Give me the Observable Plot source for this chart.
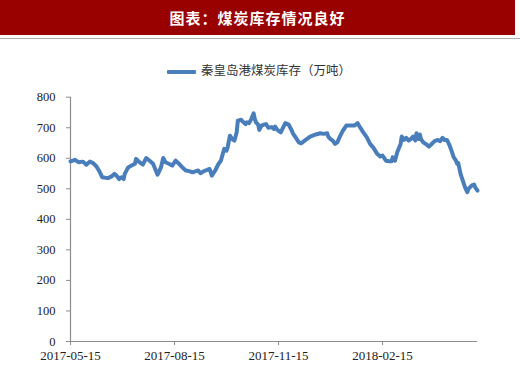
<!DOCTYPE html>
<html><head><meta charset="utf-8">
<script src="https://cdn.jsdelivr.net/npm/d3@7"></script>
<script src="https://cdn.jsdelivr.net/npm/@observablehq/plot@0.6"></script>
<style>
body{margin:0;background:#fff;width:520px;height:368px;position:relative;overflow:hidden;}
#title{position:absolute;left:0;top:0;width:515px;height:35px;background:#990000;color:#fff;font:bold 15px "Noto Sans CJK SC",sans-serif;text-align:center;line-height:35px;letter-spacing:1px;}
#sep{position:absolute;left:0;top:38px;width:520px;height:1px;background:#b0b0b0;}
#legend{position:absolute;left:167px;top:60px;height:18px;font:12.5px "Noto Sans CJK SC",sans-serif;color:#333;white-space:nowrap;}
#legend .sw{display:inline-block;width:29px;height:4px;background:#4a7ebb;vertical-align:middle;margin-right:5px;border-radius:1px;}
#chart{position:absolute;left:0;top:40px;}
</style></head>
<body>
<div id="title">图表：煤炭库存情况良好</div>
<div id="sep"></div>
<div id="legend"><span class="sw"></span><span id="legtext"></span></div>
<div id="chart"></div>
<script>
const seriesName = "秦皇岛港煤炭库存（万吨）";
const dates = ["2017-05-15","2017-05-19","2017-05-22","2017-05-26","2017-05-29","2017-06-01","2017-06-04","2017-06-07","2017-06-10","2017-06-12",
"2017-06-17","2017-06-20","2017-06-23","2017-06-25","2017-06-27","2017-06-29","2017-07-01","2017-07-02","2017-07-05","2017-07-08",
"2017-07-11","2017-07-12","2017-07-15","2017-07-18","2017-07-21","2017-07-24","2017-07-27","2017-07-31","2017-08-01","2017-08-03",
"2017-08-05","2017-08-07","2017-08-10","2017-08-13","2017-08-16","2017-08-19","2017-08-22","2017-08-25","2017-08-28","2017-08-31",
"2017-09-03","2017-09-05","2017-09-07","2017-09-10","2017-09-13","2017-09-15","2017-09-17","2017-09-20","2017-09-23","2017-09-25",
"2017-09-28","2017-09-30","2017-10-01","2017-10-03","2017-10-05","2017-10-07","2017-10-09","2017-10-10","2017-10-13","2017-10-15",
"2017-10-17","2017-10-18","2017-10-20","2017-10-22","2017-10-24","2017-10-25","2017-10-26","2017-10-28","2017-10-29","2017-10-31",
"2017-11-02","2017-11-04","2017-11-06","2017-11-09","2017-11-11","2017-11-12","2017-11-14","2017-11-17","2017-11-19","2017-11-21",
"2017-11-24","2017-11-26","2017-11-28","2017-11-30","2017-12-03","2017-12-05","2017-12-09","2017-12-13","2017-12-18","2017-12-22",
"2017-12-25","2017-12-28","2017-12-29","2017-12-31","2018-01-02","2018-01-04","2018-01-06","2018-01-08","2018-01-11","2018-01-14",
"2018-01-18","2018-01-21","2018-01-24","2018-01-26","2018-01-29","2018-02-01","2018-02-04","2018-02-07","2018-02-10","2018-02-13",
"2018-02-15","2018-02-18","2018-02-21","2018-02-23","2018-02-24","2018-02-26","2018-02-28","2018-03-03","2018-03-04","2018-03-06",
"2018-03-08","2018-03-10","2018-03-12","2018-03-14","2018-03-16","2018-03-17","2018-03-19","2018-03-20","2018-03-21","2018-03-23",
"2018-03-26","2018-03-28","2018-03-30","2018-04-02","2018-04-05","2018-04-07","2018-04-09","2018-04-11","2018-04-13","2018-04-15",
"2018-04-17","2018-04-19","2018-04-21","2018-04-22","2018-04-23","2018-04-25","2018-04-27","2018-04-29","2018-05-01","2018-05-02",
"2018-05-05","2018-05-07","2018-05-08","2018-05-10"];
const values = [590,595,587,589,579,589,584,573,554,538,
535,540,549,542,532,538,532,549,570,576,
582,598,587,579,601,592,582,546,554,570,
601,587,582,576,592,582,570,560,558,554,
558,560,551,558,562,565,543,560,582,592,
631,625,636,674,663,658,685,723,726,718,
712,718,715,729,747,729,718,710,693,707,
710,712,700,702,696,704,693,685,700,715,
710,696,680,669,652,649,660,671,678,682,
680,682,671,663,658,647,652,669,691,707,
707,707,715,702,685,669,647,634,616,606,
609,592,590,590,603,592,620,647,671,660,
667,658,663,671,658,682,663,678,663,652,
645,638,645,656,660,656,667,660,660,645,
625,603,592,582,584,549,527,505,489,500,
511,514,505,494];
const xTickLabels = ["2017-05-15","2017-08-15","2017-11-15","2018-02-15"];
const yTicks = [0,100,200,300,400,500,600,700,800];
const xDomain = ["2017-05-15","2018-05-10"];

document.getElementById("legtext").textContent = seriesName;

const data = dates.map((d,i)=>({date:new Date(d+"T00:00:00Z"), value:values[i]}));
const x0 = new Date(xDomain[0]+"T00:00:00Z");
const x1 = new Date(xDomain[1]+"T00:00:00Z");
const axisColor = "#8c8c8c";

const chart = Plot.plot({
  width: 520,
  height: 328,
  marginLeft: 70,
  marginRight: 43,
  marginTop: 56.7,
  marginBottom: 27,
  style: {fontFamily: "'Liberation Serif', serif", fontSize: "13px", color: "#222", background: "transparent"},
  x: {type: "utc", domain: [x0, x1]},
  y: {domain: [0, 800]},
  marks: [
    Plot.ruleY([0], {stroke: axisColor, strokeWidth: 1.2}),
    Plot.ruleX([x0], {y1: 0, y2: 800, stroke: axisColor, strokeWidth: 1.2}),
    Plot.axisY({ticks: yTicks, tickSize: 4, tickPadding: 11, stroke: axisColor, fill: "#222", label: null, fontSize: 12.5}),
    Plot.axisX({ticks: xTickLabels.map(s=>new Date(s+"T00:00:00Z")), tickFormat: d3.utcFormat("%Y-%m-%d"), tickSize: 4, tickPadding: 5, stroke: axisColor, fill: "#222", label: null, fontSize: 13}),
    Plot.line(data, {x: "date", y: "value", stroke: "#4a7ebb", strokeWidth: 4, strokeLinejoin: "round", strokeLinecap: "round"})
  ]
});
document.getElementById("chart").appendChild(chart);
</script>
</body></html>
